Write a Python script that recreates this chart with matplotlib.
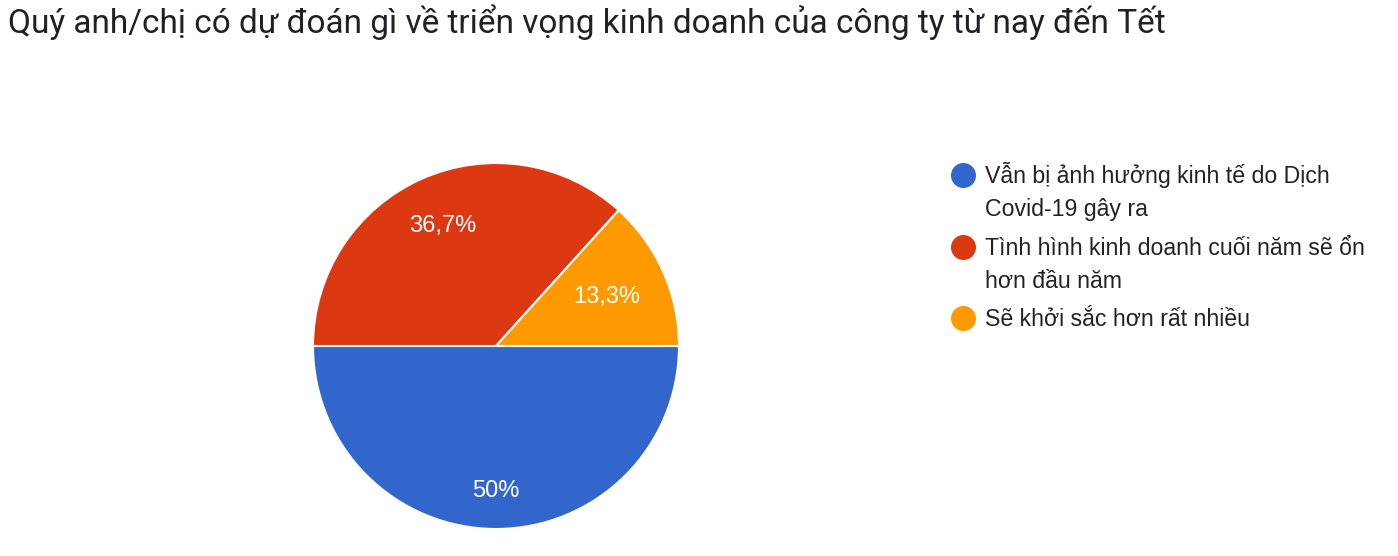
import matplotlib
matplotlib.use("Agg")
import matplotlib.pyplot as plt
import numpy as np

title = "Quý anh/chị có dự đoán gì về triển vọng kinh doanh của công ty từ nay đến Tết"
labels = ["Vẫn bị ảnh hưởng kinh tế do Dịch\nCovid-19 gây ra",
          "Tình hình kinh doanh cuối năm sẽ ổn\nhơn đầu năm",
          "Sẽ khởi sắc hơn rất nhiều"]
values = [50, 36.7, 13.3]
colors = ["#3366cc", "#dc3912", "#ff9900"]

W, H = 1398, 556
fig = plt.figure(figsize=(W / 100, H / 100), dpi=100)

# pie centre (496, 346) px, radius 183 px
cx, cy, r = 496, H - 346, 183
ax = fig.add_axes([(cx - r) / W, (cy - r) / H, 2 * r / W, 2 * r / H])


def fmt(p):
    s = f"{p:.1f}".rstrip('0').rstrip('.')
    return s.replace('.', ',') + '%'


wedges, texts, autotexts = ax.pie(values, colors=colors, startangle=0, counterclock=False,
                                  autopct=fmt, pctdistance=0.75,
                                  wedgeprops=dict(edgecolor='white', linewidth=1.5),
                                  textprops=dict(color='white', fontsize=17,
                                                 family=['Liberation Sans', 'DejaVu Sans']))
ax.set_xlim(-1, 1)
ax.set_ylim(-1, 1)
ax.set_aspect('equal')

# label distances as the form chart puts them
dists = [0.79, 0.72, 0.66]
for w, t, d in zip(wedges, autotexts, dists):
    ang = np.deg2rad((w.theta1 + w.theta2) / 2)
    t.set_position((d * np.cos(ang), d * np.sin(ang)))
    t.set_ha('center')
    t.set_va('center')

fig.text(8 / W, 1 - 22 / H, title, fontsize=24, color='#202124', va='center', ha='left',
         family=['Roboto', 'DejaVu Sans'])

# legend: marker centres, text baseline of the first line a bit below
ys = [175, 247, 318]
for lab, col, y in zip(labels, colors, ys):
    fig.add_artist(plt.Line2D([963 / W], [1 - y / H], marker='o', markersize=17,
                              color=col, linestyle='none', transform=fig.transFigure))
    first, *rest = lab.split("\n")
    fig.text(985 / W, 1 - (y + 8) / H, first, fontsize=16.7, color='#222222',
             va='baseline', ha='left', family=['Liberation Sans', 'DejaVu Sans'])
    for k, line in enumerate(rest, 1):
        fig.text(985 / W, 1 - (y + 8 + 33 * k) / H, line, fontsize=16.7, color='#222222',
                 va='baseline', ha='left', family=['Liberation Sans', 'DejaVu Sans'])

fig.savefig("out.png", dpi=100, facecolor='white')
